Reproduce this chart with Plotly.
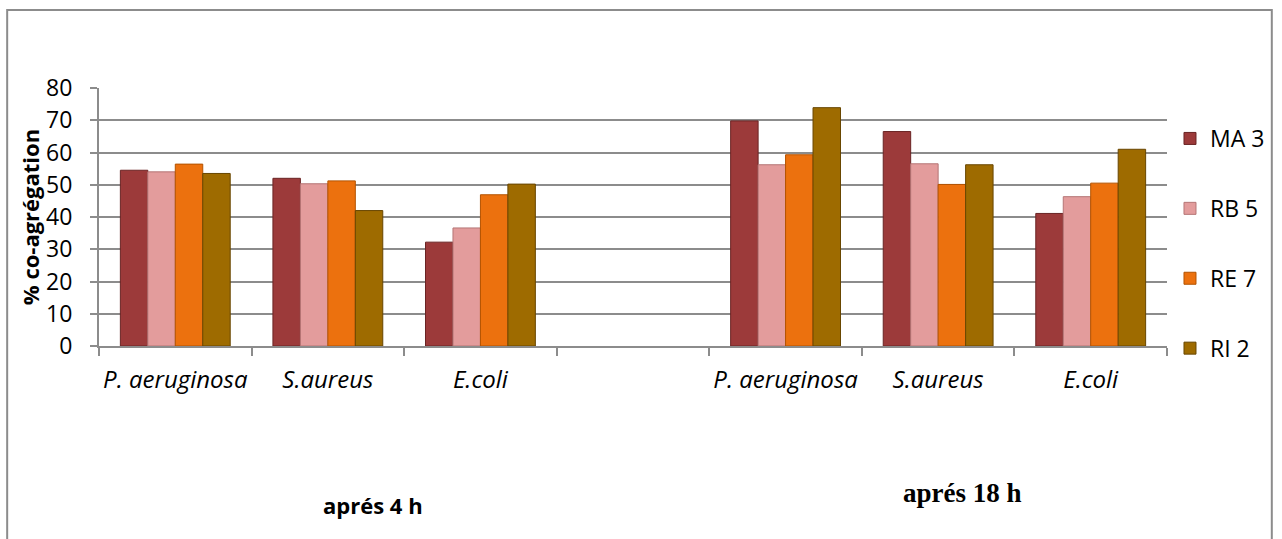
import plotly.graph_objects as go

categories = ["P. aeruginosa", "S.aureus", "E.coli"]
periods = ["aprés 4 h", "aprés 18 h"]
series_names = ["MA 3", "RB 5", "RE 7", "RI 2"]

ma3 = {"aprés 4 h": [54.5, 52.0, 32.2], "aprés 18 h": [69.8, 66.5, 41.1]}
rb5 = {"aprés 4 h": [54.0, 50.3, 36.6], "aprés 18 h": [56.2, 56.5, 46.3]}
re7 = {"aprés 4 h": [56.4, 51.2, 46.9], "aprés 18 h": [59.3, 50.1, 50.5]}
ri2 = {"aprés 4 h": [53.5, 42.0, 50.2], "aprés 18 h": [73.9, 56.2, 61.0]}

y_ticks = [0, 10, 20, 30, 40, 50, 60, 70, 80]
y_title = "% co-agrégation"

fills = ["#9C3A3A", "#E39C9C", "#EC710E", "#9E6B00"]
edges = ["#6A2424", "#B57575", "#B35300", "#684600"]

# x positions: one empty slot between the two periods
step = len(categories) + 1
x_pos, x_text = [], []
for p, per in enumerate(periods):
    for i, c in enumerate(categories):
        x_pos.append(p * step + i)
        x_text.append(c)
n_slots = step * len(periods) - 1

fig = go.Figure()
for k, (name, data) in enumerate(zip(series_names, [ma3, rb5, re7, ri2])):
    yv = []
    for per in periods:
        yv += data[per]
    fig.add_trace(go.Bar(
        x=x_pos, y=yv, name=name, legendgroup=name,
        marker=dict(color=fills[k], line=dict(color=edges[k], width=1)),
    ))

W, H = 1282, 539
L, R, T, B = 99, 113, 88, 193
pw, ph = W - L - R, H - T - B

def px(xp):
    return (xp - L) / pw

def py(yp):
    return (H - B - yp) / ph

grid_c = "#8C8C8C"
FONT = "Open Sans"
fig.update_layout(
    width=W, height=H,
    margin=dict(l=L, r=R, t=T, b=B, pad=0),
    paper_bgcolor="white", plot_bgcolor="white",
    barmode="group", bargap=0.28, bargroupgap=0,
    font=dict(family=FONT, size=20, color="black"),
    showlegend=True,
    legend=dict(x=px(1172), xanchor="left", y=py(117), yanchor="top",
                tracegroupgap=37, font=dict(family=FONT, size=23),
                bgcolor="rgba(0,0,0,0)"),
    xaxis=dict(
        range=[-0.5, n_slots - 0.5], tickmode="array", tickvals=x_pos, ticktext=x_text,
        ticks="", ticklen=0, showgrid=False, zeroline=False,
        showline=True, linecolor=grid_c, linewidth=2,
        tickfont=dict(family=FONT, size=24, style="italic"),
        ticklabelstandoff=11,
        minor=dict(tickmode="linear", tick0=-0.5, dtick=1, ticks="outside", ticklen=8,
                   tickcolor=grid_c, tickwidth=2, showgrid=False),
    ),
    yaxis=dict(
        range=[0, 80], tickmode="array", tickvals=y_ticks,
        showgrid=True, gridcolor=grid_c, gridwidth=2,
        zeroline=False, showline=True, linecolor=grid_c, linewidth=2,
        ticks="outside", ticklen=7, tickcolor=grid_c, tickwidth=2,
        tickfont=dict(family=FONT, size=23),
        ticklabelstandoff=13,
        title=dict(text=y_title, font=dict(family=FONT, size=22, weight="bold"), standoff=0),
    ),
    shapes=[dict(type="rect", xref="paper", yref="paper",
                 x0=px(7), x1=px(1274), y0=py(560), y1=py(10),
                 line=dict(color="#8C8C8C", width=2), fillcolor="rgba(0,0,0,0)", layer="below")],
    annotations=[
        dict(text="<b>" + periods[0] + "</b>", xref="paper", yref="paper",
             x=px(374), y=py(505), showarrow=False, xanchor="center", yanchor="middle",
             font=dict(family=FONT, size=22)),
        dict(text="<b>" + periods[1] + "</b>", xref="paper", yref="paper",
             x=px(964), y=py(493), showarrow=False, xanchor="center", yanchor="middle",
             font=dict(family="Liberation Serif", size=27)),
    ],
)

fig.write_html("out.html")
